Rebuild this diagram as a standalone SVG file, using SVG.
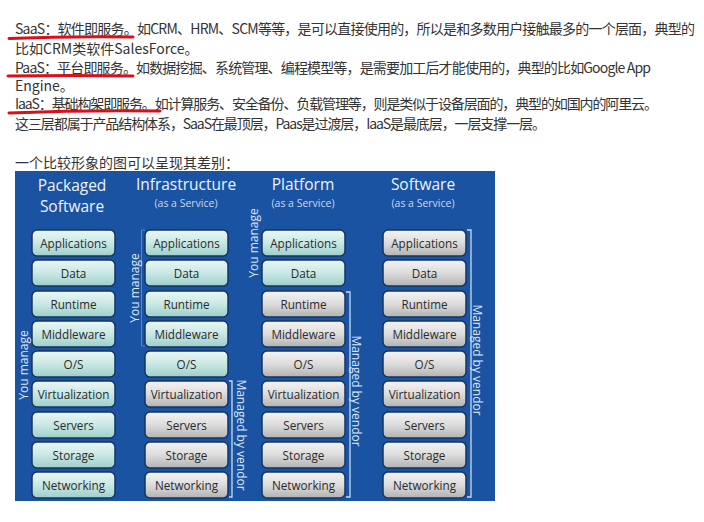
<svg xmlns="http://www.w3.org/2000/svg" width="704" height="522" viewBox="0 0 704 522">
<defs>
<linearGradient id="gc" x1="0" y1="0" x2="0" y2="1">
<stop offset="0" stop-color="#eaf8f6"/><stop offset="0.5" stop-color="#c9e8e4"/><stop offset="1" stop-color="#9ccfca"/>
</linearGradient>
<linearGradient id="gg" x1="0" y1="0" x2="0" y2="1">
<stop offset="0" stop-color="#f4f4f4"/><stop offset="0.5" stop-color="#dcdcdc"/><stop offset="1" stop-color="#b2b2b2"/>
</linearGradient>
<style>
.t{font-family:"Noto Sans CJK SC","Noto Sans",sans-serif;font-size:14px;fill:#333}
.ul{fill:none;stroke:#d8101c;stroke-width:3;stroke-linecap:round}
.c rect{fill:url(#gc);stroke:#16355e;stroke-width:1.5}
.g rect{fill:url(#gg);stroke:#16355e;stroke-width:1.5}
.b text{font-family:"Open Sans","Noto Sans",sans-serif;font-size:11.7px;fill:#2b2b2b;text-anchor:middle;dominant-baseline:central}
.h{font-family:"Open Sans","Noto Sans",sans-serif;font-size:15.5px;fill:#eef3f8;text-anchor:middle}
.s{font-family:"Open Sans","Noto Sans",sans-serif;font-size:10.5px;fill:#c8d8ea;text-anchor:middle}
.v{font-family:"Open Sans","Noto Sans",sans-serif;font-size:12px;fill:#dde8f4;text-anchor:middle;dominant-baseline:central}
.br{fill:none;stroke:#c7dcef;stroke-width:1.3}
.bf{fill:none;stroke:#5a86c4;stroke-width:1}
</style>
</defs>
<rect width="704" height="522" fill="#ffffff"/>
<g id="intro">
<text class="t" x="15" y="34" textLength="680" lengthAdjust="spacing">SaaS：软件即服务。如CRM、HRM、SCM等等，是可以直接使用的，所以是和多数用户接触最多的一个层面，典型的</text>
<text class="t" x="15" y="54">比如CRM类软件SalesForce。</text>
<text class="t" x="15" y="73" textLength="636" lengthAdjust="spacing">PaaS：平台即服务。如数据挖掘、系统管理、编程模型等，是需要加工后才能使用的，典型的比如Google App</text>
<text class="t" x="15" y="91">Engine。</text>
<text class="t" x="15" y="109" textLength="643" lengthAdjust="spacing">IaaS：基础构架即服务。如计算服务、安全备份、负载管理等，则是类似于设备层面的，典型的如国内的阿里云。</text>
<text class="t" x="15" y="129" textLength="531" lengthAdjust="spacing">这三层都属于产品结构体系，SaaS在最顶层，Paas是过渡层，IaaS是最底层，一层支撑一层。</text>
<text class="t" x="15" y="168">一个比较形象的图可以呈现其差别：</text>
<path class="ul" d="M9,38.5 Q70,36 133,37"/>
<path class="ul" d="M8,76 Q70,75 133,76"/>
<path class="ul" d="M9,113 Q85,110 160,111"/>
</g>
<rect id="panel" x="15" y="171" width="480" height="330" fill="#1b53a3"/>
<g id="titles">
<text class="h" x="72" y="191">Packaged</text>
<text class="h" x="72" y="212">Software</text>
<text class="h" x="186" y="190">Infrastructure</text>
<text class="s" x="186" y="207">(as a Service)</text>
<text class="h" x="303" y="190">Platform</text>
<text class="s" x="303" y="207">(as a Service)</text>
<text class="h" x="423" y="190">Software</text>
<text class="s" x="423" y="207">(as a Service)</text>
</g>
<g id="packaged">
<g id="pk-app" class="b c"><rect x="32" y="230" width="83" height="26" rx="5"/><text x="73.5" y="243">Applications</text></g>
<g id="pk-data" class="b c"><rect x="32" y="260" width="83" height="26" rx="5"/><text x="73.5" y="273">Data</text></g>
<g id="pk-rt" class="b c"><rect x="32" y="291" width="83" height="26" rx="5"/><text x="73.5" y="304">Runtime</text></g>
<g id="pk-mw" class="b c"><rect x="32" y="321" width="83" height="26" rx="5"/><text x="73.5" y="334">Middleware</text></g>
<g id="pk-os" class="b c"><rect x="32" y="351" width="83" height="26" rx="5"/><text x="73.5" y="364">O/S</text></g>
<g id="pk-virt" class="b c"><rect x="32" y="381" width="83" height="26" rx="5"/><text x="73.5" y="394">Virtualization</text></g>
<g id="pk-srv" class="b c"><rect x="32" y="412" width="83" height="26" rx="5"/><text x="73.5" y="425">Servers</text></g>
<g id="pk-sto" class="b c"><rect x="32" y="442" width="83" height="26" rx="5"/><text x="73.5" y="455">Storage</text></g>
<g id="pk-net" class="b c"><rect x="32" y="472" width="83" height="26" rx="5"/><text x="73.5" y="485">Networking</text></g>
</g>
<g id="iaas">
<g id="ia-app" class="b c"><rect x="145" y="230" width="83" height="26" rx="5"/><text x="186.5" y="243">Applications</text></g>
<g id="ia-data" class="b c"><rect x="145" y="260" width="83" height="26" rx="5"/><text x="186.5" y="273">Data</text></g>
<g id="ia-rt" class="b c"><rect x="145" y="291" width="83" height="26" rx="5"/><text x="186.5" y="304">Runtime</text></g>
<g id="ia-mw" class="b c"><rect x="145" y="321" width="83" height="26" rx="5"/><text x="186.5" y="334">Middleware</text></g>
<g id="ia-os" class="b c"><rect x="145" y="351" width="83" height="26" rx="5"/><text x="186.5" y="364">O/S</text></g>
<g id="ia-virt" class="b g"><rect x="145" y="381" width="83" height="26" rx="5"/><text x="186.5" y="394">Virtualization</text></g>
<g id="ia-srv" class="b g"><rect x="145" y="412" width="83" height="26" rx="5"/><text x="186.5" y="425">Servers</text></g>
<g id="ia-sto" class="b g"><rect x="145" y="442" width="83" height="26" rx="5"/><text x="186.5" y="455">Storage</text></g>
<g id="ia-net" class="b g"><rect x="145" y="472" width="83" height="26" rx="5"/><text x="186.5" y="485">Networking</text></g>
</g>
<g id="paas">
<g id="pa-app" class="b c"><rect x="262" y="230" width="83" height="26" rx="5"/><text x="303.5" y="243">Applications</text></g>
<g id="pa-data" class="b c"><rect x="262" y="260" width="83" height="26" rx="5"/><text x="303.5" y="273">Data</text></g>
<g id="pa-rt" class="b g"><rect x="262" y="291" width="83" height="26" rx="5"/><text x="303.5" y="304">Runtime</text></g>
<g id="pa-mw" class="b g"><rect x="262" y="321" width="83" height="26" rx="5"/><text x="303.5" y="334">Middleware</text></g>
<g id="pa-os" class="b g"><rect x="262" y="351" width="83" height="26" rx="5"/><text x="303.5" y="364">O/S</text></g>
<g id="pa-virt" class="b g"><rect x="262" y="381" width="83" height="26" rx="5"/><text x="303.5" y="394">Virtualization</text></g>
<g id="pa-srv" class="b g"><rect x="262" y="412" width="83" height="26" rx="5"/><text x="303.5" y="425">Servers</text></g>
<g id="pa-sto" class="b g"><rect x="262" y="442" width="83" height="26" rx="5"/><text x="303.5" y="455">Storage</text></g>
<g id="pa-net" class="b g"><rect x="262" y="472" width="83" height="26" rx="5"/><text x="303.5" y="485">Networking</text></g>
</g>
<g id="saas">
<g id="sa-app" class="b g"><rect x="383" y="230" width="83" height="26" rx="5"/><text x="424.5" y="243">Applications</text></g>
<g id="sa-data" class="b g"><rect x="383" y="260" width="83" height="26" rx="5"/><text x="424.5" y="273">Data</text></g>
<g id="sa-rt" class="b g"><rect x="383" y="291" width="83" height="26" rx="5"/><text x="424.5" y="304">Runtime</text></g>
<g id="sa-mw" class="b g"><rect x="383" y="321" width="83" height="26" rx="5"/><text x="424.5" y="334">Middleware</text></g>
<g id="sa-os" class="b g"><rect x="383" y="351" width="83" height="26" rx="5"/><text x="424.5" y="364">O/S</text></g>
<g id="sa-virt" class="b g"><rect x="383" y="381" width="83" height="26" rx="5"/><text x="424.5" y="394">Virtualization</text></g>
<g id="sa-srv" class="b g"><rect x="383" y="412" width="83" height="26" rx="5"/><text x="424.5" y="425">Servers</text></g>
<g id="sa-sto" class="b g"><rect x="383" y="442" width="83" height="26" rx="5"/><text x="424.5" y="455">Storage</text></g>
<g id="sa-net" class="b g"><rect x="383" y="472" width="83" height="26" rx="5"/><text x="424.5" y="485">Networking</text></g>
</g>
<g id="connectors">
<path class="bf" d="M145,230 H141.5 V346 H145"/>
<path class="br" d="M229,381 H232 V497 H229"/>
<path class="br" d="M346,292 H350 V497 H346"/>
<path class="br" d="M467,230 H471 V497 H467"/>
</g>
<g id="labels">
<text class="v" transform="translate(23,365) rotate(-90)">You manage</text>
<text class="v" transform="translate(134,288) rotate(-90)">You manage</text>
<text class="v" transform="translate(253,243) rotate(-90)">You manage</text>
<text class="v" transform="translate(241,435) rotate(90)">Managed by vendor</text>
<text class="v" transform="translate(356,391) rotate(90)">Managed by vendor</text>
<text class="v" transform="translate(477,360) rotate(90)">Managed by vendor</text>
</g>
</svg>
